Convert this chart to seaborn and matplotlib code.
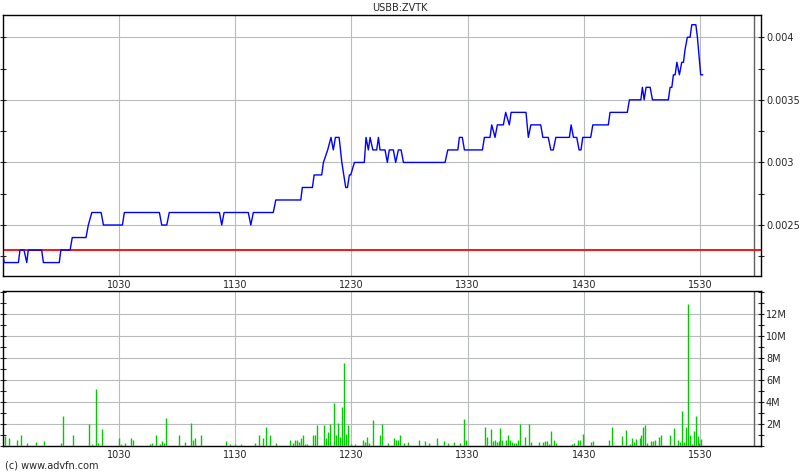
import seaborn as sns
import matplotlib.pyplot as plt
import matplotlib.ticker as mticker
import pandas as pd

# minutes after 09:30 and traded price
price_minutes = [0, 0.7, 8.1, 8.9, 11.0, 12.4, 13.2, 20.1, 21.0, 29.2, 30.0, 34.8, 35.9, 43.0, 44.2,
                 46.0, 50.8, 52.0, 61.8, 62.8, 80.9, 82.1, 84.7, 86.0, 111.9, 113.1, 114.3, 126.8,
                 128.1, 129.4, 139.7, 141.0, 153.9, 154.7, 159.9, 160.8, 164.7, 165.6, 167.8, 169.5,
                 170.7, 171.8, 173.7, 175.1, 177.1, 178.0, 179.0, 179.7, 181.6, 186.7, 187.6, 188.8,
                 189.7, 191.1, 193.1, 194.0, 194.8, 197.4, 198.6, 199.6, 201.7, 202.9, 204.3, 205.7,
                 206.9, 228.4, 229.8, 235.0, 235.8, 237.3, 238.4, 247.7, 248.7, 251.6, 252.5, 254.2,
                 255.4, 258.5, 259.7, 261.6, 262.5, 270.2, 271.4, 272.7, 277.8, 278.9, 281.7, 283.0,
                 284.3, 285.6, 292.6, 293.5, 294.7, 296.4, 297.6, 298.6, 299.5, 303.6, 304.7, 312.7,
                 313.6, 322.5, 323.6, 329.5, 330.3, 331.2, 332.2, 334.3, 335.5, 343.7, 344.6, 345.5,
                 346.3, 347.2, 348.1, 349.4, 350.6, 351.5, 352.3, 353.5, 354.9, 355.8, 357.9, 358.7,
                 360.4, 361.5]
prices = [0.0023, 0.0022, 0.0022, 0.0023, 0.0023, 0.0022, 0.0023, 0.0023, 0.0022, 0.0022, 0.0023,
          0.0023, 0.0024, 0.0024, 0.0025, 0.0026, 0.0026, 0.0025, 0.0025, 0.0026, 0.0026, 0.0025,
          0.0025, 0.0026, 0.0026, 0.0025, 0.0026, 0.0026, 0.0025, 0.0026, 0.0026, 0.0027, 0.0027,
          0.0028, 0.0028, 0.0029, 0.0029, 0.0030, 0.0031, 0.0032, 0.0031, 0.0032, 0.0032, 0.0030,
          0.0028, 0.0028, 0.0029, 0.0029, 0.0030, 0.0030, 0.0032, 0.0031, 0.0032, 0.0031, 0.0031,
          0.0032, 0.0031, 0.0031, 0.0030, 0.0031, 0.0031, 0.0030, 0.0031, 0.0031, 0.0030, 0.0030,
          0.0031, 0.0031, 0.0032, 0.0032, 0.0031, 0.0031, 0.0032, 0.0032, 0.0033, 0.0032, 0.0033,
          0.0033, 0.0034, 0.0033, 0.0034, 0.0034, 0.0032, 0.0033, 0.0033, 0.0032, 0.0032, 0.0031,
          0.0031, 0.0032, 0.0032, 0.0033, 0.0032, 0.0032, 0.0031, 0.0031, 0.0032, 0.0032, 0.0033,
          0.0033, 0.0034, 0.0034, 0.0035, 0.0035, 0.0036, 0.0035, 0.0036, 0.0036, 0.0035, 0.0035,
          0.0036, 0.0036, 0.0037, 0.0037, 0.0038, 0.0037, 0.0038, 0.0038, 0.0039, 0.0040, 0.0040,
          0.0041, 0.0041, 0.0040, 0.0037, 0.0037]
prev_close = 0.0023

vol_minutes = [1.2, 3.4, 7.5, 9.6, 12.7, 17.4, 21.5, 30.3, 31.3, 36.5, 44.7, 46.3, 48.3, 49.4, 51.4,
               60.2, 61.2, 63.3, 66.4, 67.4,
               76.1, 77.3, 79.3, 81.4, 82.4, 83.4, 84.5, 91.2, 94.3, 97.4, 98.4, 99.5, 102.6, 115.5,
               117.5, 120.1, 123.2, 130.4, 132.5, 134.6, 136.1, 138.2, 141.3,
               148.5, 150.1, 151.1, 152.1, 153.2, 154.2, 155.2, 156.3, 157.3, 160.4, 161.4, 162.5,
               166.1, 167.1, 168.1, 169.2, 171.2, 172.3, 173.3, 174.3, 175.4, 176.4, 177.4, 178.5,
               180.0, 182.1, 186.2, 187.2, 188.3, 189.3, 191.4, 195.0, 196.0, 199.1, 202.2, 203.3,
               204.3, 205.3, 207.4, 209.5, 215.1,
               218.2, 220.3, 224.4, 228.0, 230.1, 233.2, 236.3, 238.4, 239.4, 249.2, 250.3, 252.3,
               253.3, 254.4, 255.4, 256.1, 257.0, 258.0, 260.1, 261.1, 262.1, 263.2, 264.2, 265.2,
               266.3, 267.3, 269.9, 271.9, 273.0, 277.1, 279.2, 280.2, 281.2, 282.3, 283.3, 284.8,
               285.9,
               294.1, 295.1, 297.2, 298.3, 299.8, 303.9, 305.0, 313.2, 314.8, 319.9, 322.0, 324.1,
               325.1, 326.2, 327.2, 329.2, 329.8, 330.8, 331.8, 332.9, 334.9, 336.0, 337.0, 339.1,
               340.1, 344.7, 346.8, 348.9, 349.9, 351.0, 352.0, 353.0, 354.1, 355.1, 356.1, 357.2,
               358.2, 359.2, 359.7, 360.8]
volumes_m = [0.85, 0.67, 0.55, 0.94, 0.2, 0.3, 0.4, 0.2, 2.7, 0.94, 1.95, 0.1, 5.2, 0.2, 1.5,
             0.67, 0.1, 0.2, 0.67, 0.5,
             0.1, 0.2, 0.94, 0.1, 0.4, 0.2, 2.5, 1.0, 0.3, 2.1, 0.5, 0.67, 0.94, 0.4,
             0.1, 0.15, 0.1, 0.2, 0.94, 0.67, 1.7, 1.0, 0.2,
             0.5, 0.2, 0.5, 0.5, 0.3, 0.67, 1.0, 0.1, 0.1, 0.94, 0.94, 1.85,
             1.85, 0.67, 1.2, 2.0, 3.9, 1.0, 2.1, 0.76, 3.56, 7.58, 1.1, 1.85,
             0.15, 0.1, 0.5, 0.3, 0.76, 0.2, 2.3, 0.94, 2.0, 0.2, 0.67, 0.5,
             0.5, 1.0, 0.2, 0.3, 0.5,
             0.4, 0.2, 0.67, 0.4, 0.2, 0.3, 0.2, 2.4, 0.5, 1.7, 0.76, 1.5,
             0.4, 0.5, 0.3, 0.4, 1.6, 0.5, 0.5, 1.0, 0.5, 0.3, 0.2, 0.2,
             0.5, 1.95, 0.76, 1.95, 0.3, 0.3, 0.3, 0.4, 0.4, 0.1, 1.3, 0.5,
             0.2,
             0.1, 0.2, 0.5, 0.5, 1.1, 0.3, 0.4, 0.5, 1.7, 0.85, 1.4, 0.1,
             0.67, 0.3, 0.58, 0.67, 1.0, 1.7, 1.85, 0.2, 0.4, 0.4, 0.5, 0.76,
             0.94, 1.0, 1.6, 0.5, 0.3, 3.2, 0.3, 1.7, 12.9, 1.0, 0.1, 1.3,
             2.7, 0.85, 0.2, 0.58]

time_labels = ['1030', '1130', '1230', '1330', '1430', '1530']
price_ticks = [0.0025, 0.003, 0.0035, 0.004]
price_tick_labels = ['0.0025', '0.003', '0.0035', '0.004']
vol_ticks = [2, 4, 6, 8, 10, 12]
vol_tick_labels = ['2M', '4M', '6M', '8M', '10M', '12M']

sns.set_style('white')
plt.rcParams['font.family'] = ['DejaVu Sans']
plt.rcParams['font.size'] = 7

price_df = pd.DataFrame({'t': price_minutes, 'price': prices})
vol_df = pd.DataFrame({'t': vol_minutes, 'vol': volumes_m})

# minutes after 09:30 for the time tick labels
tick_pos = [(int(s[:-2]) * 60 + int(s[-2:])) - 570 for s in time_labels]
x_end = 391.6
close_line = 388.0

fig = plt.figure(figsize=(8, 4.75), dpi=100)
ax1 = fig.add_axes([0.0034, 0.419, 0.948, 0.550])
ax2 = fig.add_axes([0.0034, 0.062, 0.948, 0.326])

grid_kw = dict(color='#b8bcbc', lw=0.8, zorder=0)

for ax in (ax1, ax2):
    for t in tick_pos:
        ax.axvline(t, **grid_kw)
    ax.axvline(close_line, color='#606060', lw=1.0, zorder=1)
    ax.set_xlim(0, x_end)
    ax.set_xticks(tick_pos)
    ax.set_xticklabels(time_labels)
    ax.tick_params(axis='x', length=0, pad=3)
    ax.yaxis.tick_right()
    ax.tick_params(axis='y', which='both', right=True, left=True, direction='inout', length=5,
                   width=0.8, pad=1)
    for s in ax.spines.values():
        s.set_color('black')
        s.set_linewidth(1.0)

for y in price_ticks:
    ax1.axhline(y, **grid_kw)
ax1.axhline(prev_close, color='#ff0000', lw=1.3, zorder=2)
sns.lineplot(data=price_df, x='t', y='price', ax=ax1, color='#0000ff', lw=1.0, zorder=3,
             sort=False, estimator=None)
ax1.set_ylim(0.002093, 0.00418)
ax1.set_yticks(price_ticks)
ax1.set_yticklabels(price_tick_labels)
ax1.yaxis.set_minor_locator(mticker.MultipleLocator(0.00025))
ax1.set_xlabel('')
ax1.set_ylabel('')

for y in vol_ticks:
    ax2.axhline(y, **grid_kw)
ax2.vlines(vol_df['t'], 0, vol_df['vol'], color='#00cc00', lw=1.0, zorder=3)
ax2.set_ylim(0, 14.16)
ax2.set_yticks(vol_ticks)
ax2.set_yticklabels(vol_tick_labels)
ax2.yaxis.set_minor_locator(mticker.MultipleLocator(1))

fig.text(0.5, 0.983, 'USBB:ZVTK', ha='center', va='center', fontsize=7)
fig.text(0.006, 0.019, '(c) www.advfn.com', ha='left', va='center', fontsize=7)

fig.savefig('out.png', dpi=100)
